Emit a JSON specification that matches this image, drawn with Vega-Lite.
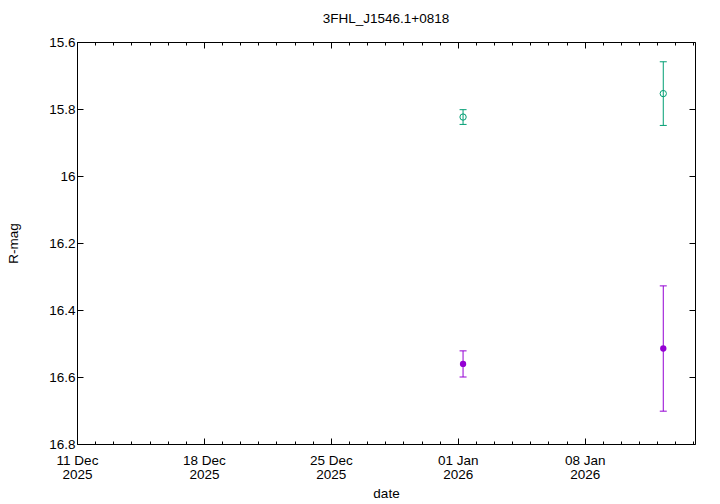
{
  "$schema": "https://vega.github.io/schema/vega-lite/v6.json",
  "width": 618,
  "height": 402,
  "autosize": {"type": "none"},
  "padding": {"left": 77, "top": 42, "right": 25, "bottom": 60},
  "background": "white",
  "title": {"text": "3FHL_J1546.1+0818", "font": "Liberation Sans", "fontSize": 13.5, "fontWeight": "normal", "color": "black", "offset": 10},
  "config": {
    "view": {"stroke": "black", "strokeWidth": 1},
    "axis": {"grid": false, "domain": false, "labelFont": "Liberation Sans", "labelFontSize": 13.5, "labelColor": "black", "titleFont": "Liberation Sans", "titleFontSize": 13.5, "titleFontWeight": "normal", "titleColor": "black", "tickColor": "black", "tickWidth": 1}
  },
  "data": {"values": [
    {"date": "2026-01-01T07:00:00Z", "mag": 16.561, "err": 0.039, "series": "A"},
    {"date": "2026-01-12T08:00:00Z", "mag": 16.515, "err": 0.187, "series": "A"},
    {"date": "2026-01-01T07:00:00Z", "mag": 15.824, "err": 0.022, "series": "B"},
    {"date": "2026-01-12T08:00:00Z", "mag": 15.754, "err": 0.095, "series": "B"}
  ]},
  "resolve": {"axis": {"x": "independent", "y": "independent"}},
  "layer": [
    {
      "mark": {"type": "errorbar", "ticks": {"size": 7}, "thickness": 1, "opacity": 1},
      "encoding": {
        "x": {"field": "date", "type": "temporal", "scale": {"type": "utc", "domain": [1765411200000, 1768356000000]}, "axis": null},
        "y": {"field": "mag", "type": "quantitative", "scale": {"domain": [15.6, 16.8], "reverse": true, "nice": false, "zero": false}, "axis": null},
        "yError": {"field": "err"},
        "color": {"field": "series", "type": "nominal", "scale": {"domain": ["A", "B"], "range": ["#9400d3", "#009e73"]}, "legend": null}
      }
    },
    {
      "transform": [{"filter": "datum.series === 'A'"}],
      "mark": {"type": "point", "shape": "circle", "filled": true, "size": 40, "opacity": 1, "color": "#9400d3"},
      "encoding": {
        "x": {"field": "date", "type": "temporal", "title": "date",
          "axis": {"orient": "bottom", "values": [1765411200000, 1766016000000, 1766620800000, 1767225600000, 1767830400000], "tickSize": -6, "labelPadding": 15, "titlePadding": 6, "labelAlign": "center", "labelExpr": "[utcFormat(datum.value, '%d %b'), utcFormat(datum.value, '%Y')]", "labelLineHeight": 14, "labelFlush": false}},
        "y": {"field": "mag", "type": "quantitative", "title": "R-mag",
          "axis": {"orient": "left", "values": [15.6, 15.8, 16, 16.2, 16.4, 16.6, 16.8], "format": "~g", "tickSize": -6, "labelPadding": 8, "titlePadding": 28, "labelFlush": false}}
      }
    },
    {
      "transform": [{"filter": "datum.series === 'B'"}],
      "mark": {"type": "point", "shape": "circle", "filled": false, "size": 40, "opacity": 1, "strokeWidth": 1, "color": "#009e73"},
      "encoding": {
        "x": {"field": "date", "type": "temporal",
          "axis": {"orient": "bottom", "title": null, "labels": false, "tickSize": -3, "values": [1765411200000, 1765497600000, 1765584000000, 1765670400000, 1765756800000, 1765843200000, 1765929600000, 1766016000000, 1766102400000, 1766188800000, 1766275200000, 1766361600000, 1766448000000, 1766534400000, 1766620800000, 1766707200000, 1766793600000, 1766880000000, 1766966400000, 1767052800000, 1767139200000, 1767225600000, 1767312000000, 1767398400000, 1767484800000, 1767571200000, 1767657600000, 1767744000000, 1767830400000, 1767916800000, 1768003200000, 1768089600000, 1768176000000, 1768262400000, 1768348800000]}},
        "y": {"field": "mag", "type": "quantitative",
          "axis": {"orient": "right", "title": null, "labels": false, "tickSize": -6, "values": [15.6, 15.8, 16, 16.2, 16.4, 16.6, 16.8]}}
      }
    },
    {
      "mark": {"type": "point", "opacity": 0},
      "encoding": {
        "x": {"field": "date", "type": "temporal",
          "axis": {"orient": "top", "title": null, "labels": false, "tickSize": -6, "values": [1765411200000, 1766016000000, 1766620800000, 1767225600000, 1767830400000]}},
        "y": {"field": "mag", "type": "quantitative", "axis": null}
      }
    },
    {
      "mark": {"type": "point", "opacity": 0},
      "encoding": {
        "x": {"field": "date", "type": "temporal",
          "axis": {"orient": "top", "title": null, "labels": false, "tickSize": -3, "values": [1765411200000, 1765497600000, 1765584000000, 1765670400000, 1765756800000, 1765843200000, 1765929600000, 1766016000000, 1766102400000, 1766188800000, 1766275200000, 1766361600000, 1766448000000, 1766534400000, 1766620800000, 1766707200000, 1766793600000, 1766880000000, 1766966400000, 1767052800000, 1767139200000, 1767225600000, 1767312000000, 1767398400000, 1767484800000, 1767571200000, 1767657600000, 1767744000000, 1767830400000, 1767916800000, 1768003200000, 1768089600000, 1768176000000, 1768262400000, 1768348800000]}},
        "y": {"field": "mag", "type": "quantitative", "axis": null}
      }
    }
  ]
}
